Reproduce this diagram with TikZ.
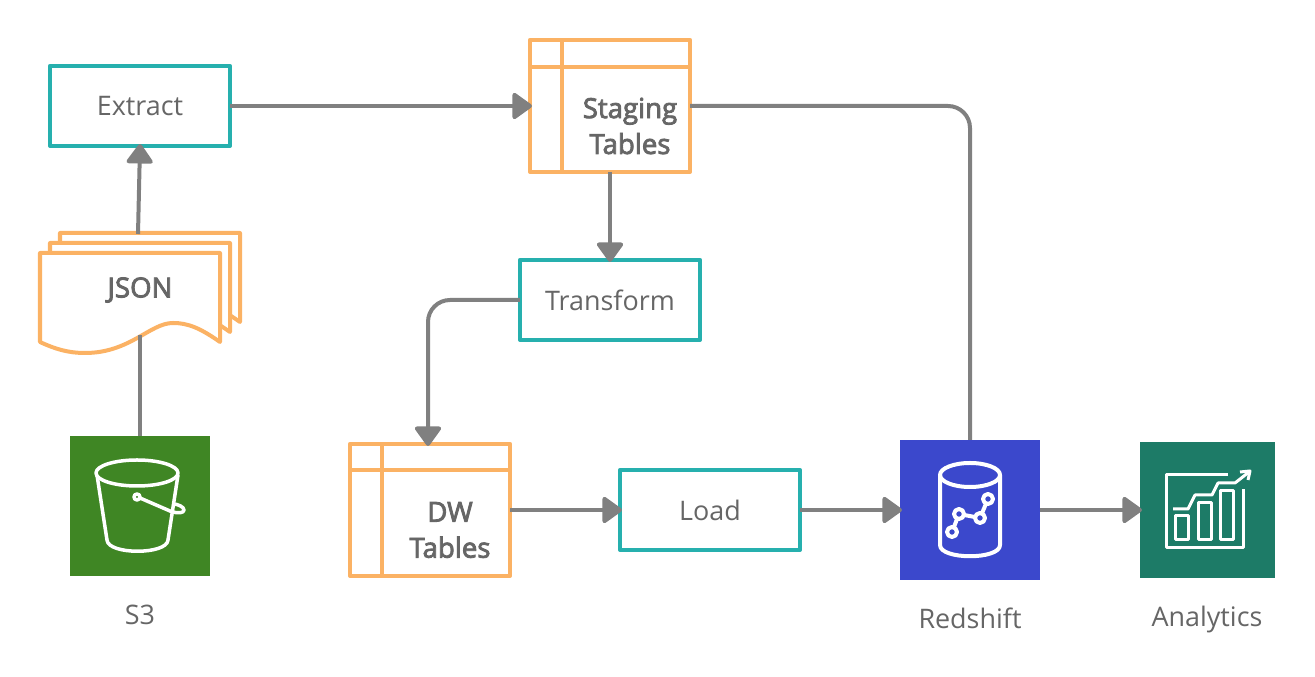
\documentclass[tikz,border=0pt]{standalone}
\usepackage{fontspec}
\setmainfont{Open Sans}
\newfontfamily\semifont[FakeBold=3]{Open Sans}
\usetikzlibrary{arrows.meta}
\definecolor{tealline}{HTML}{26B0AE}
\definecolor{orangeline}{HTML}{FBB264}
\definecolor{wiregray}{HTML}{808080}
\definecolor{textgray}{HTML}{666666}
\definecolor{sthreegreen}{HTML}{3F8624}
\definecolor{redshiftblue}{HTML}{3B48CC}
\definecolor{analyticsgreen}{HTML}{1D7B67}
\tikzset{
    px/.style={x=0.01cm,y=-0.01cm},
    label text/.style={text=textgray,font=\fontsize{7.65}{10}\selectfont,inner sep=0pt},
    bold text/.style={text=textgray,font=\fontsize{7.85}{10.2}\selectfont\semifont,align=center,inner sep=0pt},
    stepbox/.style={draw=tealline,line width=0.04cm,line join=round,fill=white,minimum width=1.8cm,minimum height=0.8cm,outer sep=0pt,label text},
    tablebox/.style={draw=orangeline,line width=0.04cm,line join=round,fill=white,minimum width=1.6cm,minimum height=1.32cm,inner sep=0pt,outer sep=0pt},
    tableline/.style={draw=orangeline,line width=0.04cm},
    icontile/.style={minimum width=1.4cm,minimum height=1.4cm,inner sep=0pt,outer sep=0pt},
    iconline/.style={draw=white,line width=0.035cm,line join=round},
    wire/.style={draw=wiregray,line width=0.04cm},
    flow/.style={wire,shorten >=-0.02cm,-{Triangle[length=0.21cm,width=0.29cm,round]}},
}
\begin{document}
\begin{tikzpicture}[px]
    \useasboundingbox (0,0) rectangle (1315,677);

    % Step boxes
    \node[stepbox] (extract) at (140,106) {Extract};
    \node[stepbox] (transform) at (610,300) {Transform};
    \node[stepbox] (load) at (710,510) {Load};

    % Staging table
    \node[tablebox] (staging) at (610,106) {};
    \draw[tableline] (562,40) -- (562,172);
    \draw[tableline] (530,67) -- (690,67);
    \node[bold text] (staginglabel) at (630,126) {Staging\\Tables};

    % DW table
    \node[tablebox] (dw) at (430,510) {};
    \draw[tableline] (382,444) -- (382,576);
    \draw[tableline] (350,470) -- (510,470);
    \node[bold text] (dwlabel) at (450,530) {DW\\Tables};

    % JSON pages
    \foreach \d in {20,10,0} {
        \begin{scope}[shift={(\d,-\d)}]
            \draw[draw=orangeline,fill=white,line width=0.04cm,line join=round]
                (40,253) -- (220,253) -- (220,342)
                .. controls (200,328) and (188,323) .. (173,323)
                .. controls (150,323) and (130,353) .. (85,353)
                .. controls (68,353) and (55,349) .. (40,342) -- cycle;
        \end{scope}
    }
    \node[bold text] (jsonlabel) at (140,290) {JSON};
    \coordinate (jsontop) at (138,234);
    \coordinate (jsonbottom) at (140,335);

    % S3
    \node[icontile,fill=sthreegreen] (sthree) at (140,506) {};
    \draw[iconline] (137,473) ellipse (41 and 13);
    \draw[iconline] (97,475) -- (107,540)
        .. controls (108,555) and (167,555) .. (168,540) -- (178,475);
    \draw[iconline] (137,497) circle (3);
    \draw[iconline] (140,498) -- (170,511)
        .. controls (178,514) and (184,513) .. (184,510)
        .. controls (184,507) and (178,504) .. (173,504);
    \node[label text] (sthreelabel) at (140,615) {S3};

    % Redshift
    \node[icontile,fill=redshiftblue] (redshift) at (970,510) {};
    \draw[iconline,line width=0.04cm] (970,475) ellipse (30 and 12);
    \draw[iconline,line width=0.04cm] (940,475) -- (940,545)
        .. controls (940,560) and (1000,560) .. (1000,545) -- (1000,475);
    \draw[iconline,line width=0.04cm] (952,532) -- (959,514) -- (980,518) -- (988,499);
    \foreach \p in {(952,532),(959,514),(980,518),(988,499)} {
        \draw[iconline,line width=0.04cm,fill=redshiftblue] \p circle (5);
    }
    \node[label text] (redshiftlabel) at (970,618) {Redshift};

    % Analytics
    \node[icontile,fill=analyticsgreen,minimum width=1.35cm,minimum height=1.35cm] (analytics) at (1207.5,510) {};
    \draw[iconline,line width=0.03cm] (1228,475) -- (1166,475) -- (1166,548) -- (1243,548) -- (1243,489);
    \draw[iconline,line width=0.03cm] (1175,516) rectangle (1188,540);
    \draw[iconline,line width=0.03cm] (1198,503) rectangle (1211,540);
    \draw[iconline,line width=0.03cm] (1220,491) rectangle (1233,540);
    \draw[iconline,line width=0.03cm] (1173,509) -- (1188,509) -- (1195,495) -- (1212,495) -- (1218,483) -- (1235,483) -- (1249,472);
    \draw[iconline,line width=0.03cm] (1240,472) -- (1250,471) -- (1248,480);
    \node[label text] (analyticslabel) at (1207,620) {Analytics};

    % Connectors
    \draw[flow] (extract.east) -- (staging.west);
    \draw[flow] (staging.south) -- (transform.north);
    \draw[flow,rounded corners=0.22cm] (transform.west) -| ([xshift=-0.02cm]dw.north);
    \draw[flow] (dw.east) -- (load.west);
    \draw[flow] (load.east) -- (redshift.west);
    \draw[flow] (redshift.east) -- (analytics.west);
    \draw[wire,rounded corners=0.22cm] (staging.east) -| (redshift.north);
    \draw[wire] (sthree.north) -- (jsonbottom);
    \draw[flow] (jsontop) -- (extract.south);
\end{tikzpicture}
\end{document}
